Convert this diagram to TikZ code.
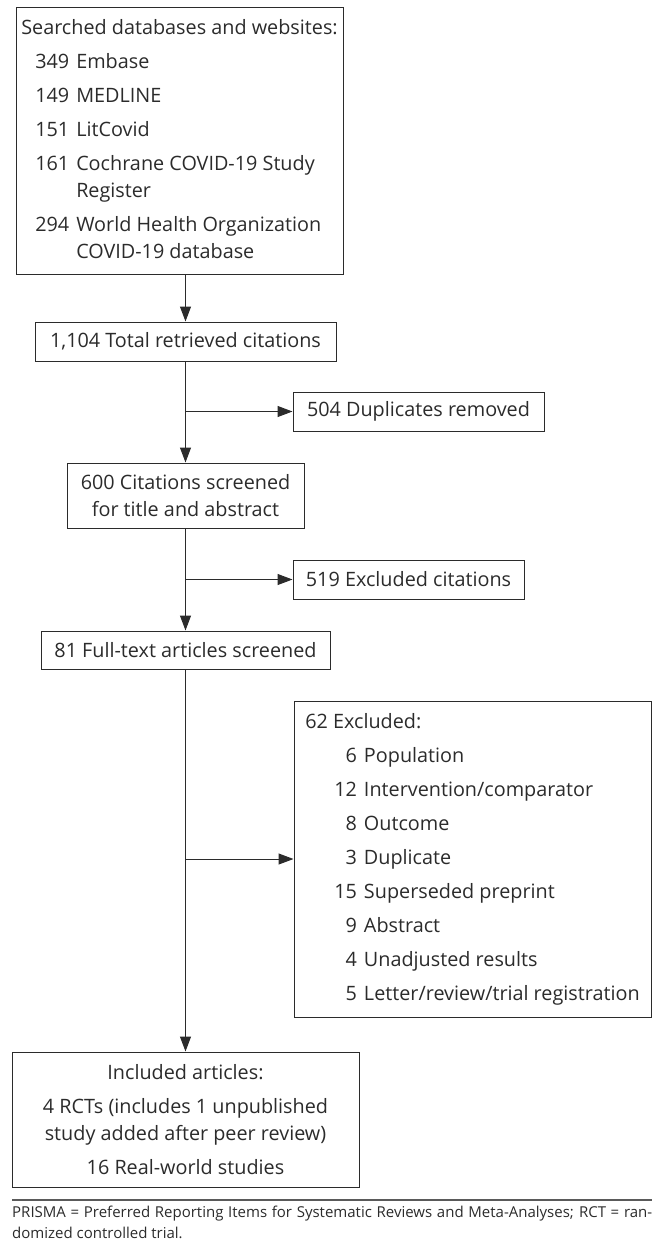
\documentclass[tikz,border=0pt]{standalone}
\usepackage{fontspec}
\setmainfont{Open Sans}
\usetikzlibrary{arrows.meta}
\definecolor{inkgray}{HTML}{2B2B2B}
\definecolor{rulegray}{HTML}{5A5A5A}
\newcommand{\entrygap}{7pt}
\tikzset{
  stagebox/.style={draw=inkgray, line width=1pt, inner sep=0pt, text=inkgray,
    font=\fontsize{19.8}{27}\selectfont},
  stagearrow/.style={-{Triangle[length=15pt,width=11pt]}, line width=1pt, draw=inkgray},
  notetext/.style={text=inkgray, font=\fontsize{15}{21}\selectfont, inner sep=0pt,
    text width=640pt, align=justify, anchor=north west}
}

\begin{document}
\begin{tikzpicture}[x=1pt, y=-1pt]
  \useasboundingbox (0,0) rectangle (663,1257);

  \node[stagebox, minimum width=327, minimum height=266] (search) at (179.5,141)
    {\begin{tabular}{@{\hspace{14pt}}r@{\hspace{7pt}}l@{}}
      \multicolumn{2}{@{}l@{}}{Searched databases and websites:}\\[\entrygap]
      349 & Embase\\[\entrygap]
      149 & MEDLINE\\[\entrygap]
      151 & LitCovid\\[\entrygap]
      161 & Cochrane COVID-19 Study\\
          & Register\\[\entrygap]
      294 & World Health Organization\\
          & COVID-19 database
     \end{tabular}};
  \node[stagebox, minimum width=301, minimum height=39] (total) at (185.5,341.5)
    {1,104 Total retrieved citations};
  \node[stagebox, minimum width=251, minimum height=39] (dups) at (418.5,411.5)
    {504 Duplicates removed};
  \node[stagebox, minimum width=237, minimum height=65, align=center] (screened) at (185.5,495.5)
    {600 Citations screened\\for title and abstract};
  \node[stagebox, minimum width=231, minimum height=39] (excluded) at (408.5,579.5)
    {519 Excluded citations};
  \node[stagebox, minimum width=289, minimum height=38] (fulltext) at (185.5,650)
    {81 Full-text articles screened};
  \node[stagebox, minimum width=357, minimum height=316] (reasons) at (472.5,859)
    {\begin{tabular}{@{\hspace{29pt}}r@{\hspace{7pt}}l@{}}
      \multicolumn{2}{@{}l@{}}{62 Excluded:}\\[\entrygap]
      6 & Population\\[\entrygap]
      12 & Intervention/comparator\\[\entrygap]
      8 & Outcome\\[\entrygap]
      3 & Duplicate\\[\entrygap]
      15 & Superseded preprint\\[\entrygap]
      9 & Abstract\\[\entrygap]
      4 & Unadjusted results\\[\entrygap]
      5 & Letter/review/trial registration
     \end{tabular}};
  \node[stagebox, minimum width=347, minimum height=135, align=center] (included) at (185.5,1119.5)
    {Included articles:\\[\entrygap]
     4 RCTs (includes 1 unpublished\\study added after peer review)\\[\entrygap]
     16 Real-world studies};

  \draw[stagearrow] (search.south -| total.north) -- (total.north);
  \draw[stagearrow] (total) -- (screened);
  \draw[stagearrow] (total.south |- dups.west) -- (dups.west);
  \draw[stagearrow] (screened) -- (fulltext);
  \draw[stagearrow] (screened.south |- excluded.west) -- (excluded.west);
  \draw[stagearrow] (fulltext) -- (included);
  \draw[stagearrow] (fulltext.south |- reasons.west) -- (reasons.west);

  \coordinate (ruleleft) at (12,1200);
  \coordinate (ruleright) at (652,1200);
  \draw[rulegray, line width=2pt] (ruleleft) -- (ruleright);
  \node[notetext] (note) at (12,1206)
    {PRISMA = Preferred Reporting Items for Systematic Reviews and Meta-Analyses; RCT = ran-\linebreak
     domized controlled trial.};
\end{tikzpicture}
\end{document}
